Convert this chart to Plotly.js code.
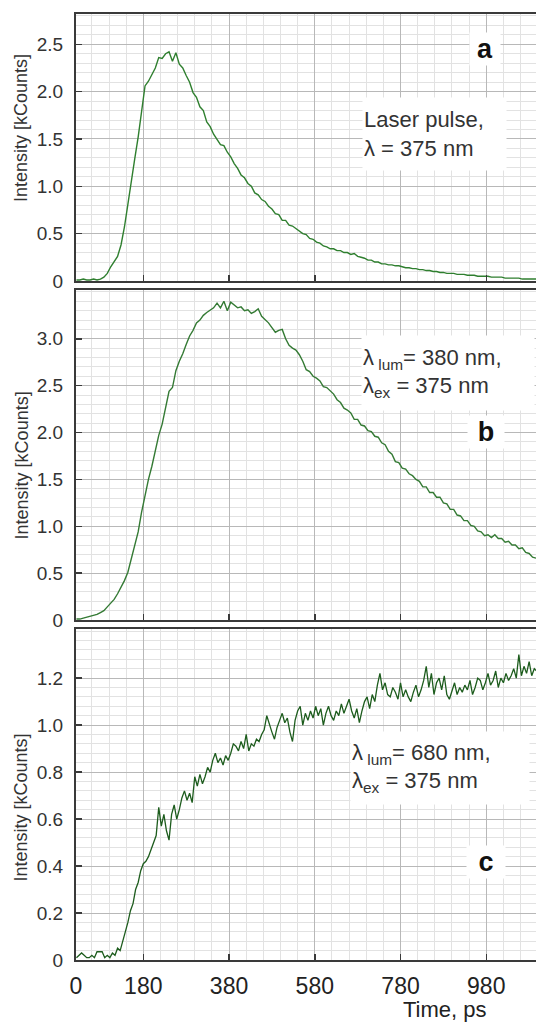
<!DOCTYPE html>
<html><head><meta charset="utf-8">
<script src="https://cdn.plot.ly/plotly-3.0.1.min.js"></script>
<style>html,body{margin:0;padding:0;background:#fff}#chart{width:536px;height:1023px}</style>
</head><body><div id="chart"></div>
<script>
// ---- data (time in ps, intensity in kCounts) ----
const startAB = 24, stepAB = 8;   // sampling grid of panels a and b
const startC = 24, stepC = 6;     // sampling grid of panel c

const intensityA = [
 0.01,0.01,0.02,0.01,0.01,0.02,0.01,0.02,0.04,0.08,
 0.15,0.20,0.26,0.38,0.57,0.81,1.07,1.29,1.52,1.78,
 2.06,2.11,2.18,2.25,2.36,2.35,2.40,2.42,2.32,2.41,
 2.29,2.25,2.17,2.10,1.99,1.94,1.84,1.80,1.68,1.63,
 1.55,1.50,1.44,1.43,1.36,1.31,1.24,1.19,1.12,1.09,
 1.03,1.00,0.93,0.91,0.86,0.84,0.79,0.76,0.71,0.70,
 0.64,0.64,0.59,0.58,0.55,0.53,0.50,0.49,0.45,0.44,
 0.41,0.40,0.37,0.36,0.34,0.34,0.32,0.32,0.30,0.30,
 0.28,0.29,0.26,0.25,0.24,0.22,0.22,0.20,0.20,0.18,
 0.18,0.17,0.17,0.16,0.16,0.15,0.14,0.14,0.13,0.13,
 0.12,0.12,0.11,0.11,0.10,0.10,0.09,0.09,0.08,0.08,
 0.08,0.07,0.07,0.07,0.06,0.06,0.06,0.05,0.05,0.05,
 0.05,0.04,0.04,0.04,0.04,0.03,0.03,0.03,0.03,0.03,
 0.02,0.02,0.02,0.02,0.02];

const intensityB = [
 0.01,0.01,0.02,0.03,0.04,0.05,0.06,0.08,0.10,0.14,
 0.18,0.22,0.28,0.35,0.42,0.51,0.65,0.80,0.94,1.15,
 1.34,1.50,1.64,1.81,1.97,2.09,2.27,2.44,2.48,2.66,
 2.76,2.84,2.94,3.03,3.09,3.17,3.20,3.25,3.28,3.31,
 3.33,3.38,3.33,3.40,3.30,3.39,3.36,3.33,3.34,3.30,
 3.31,3.27,3.29,3.32,3.24,3.21,3.17,3.12,3.07,3.09,
 3.10,3.00,2.93,2.90,2.88,2.83,2.76,2.67,2.65,2.60,
 2.58,2.55,2.49,2.48,2.44,2.41,2.35,2.32,2.26,2.24,
 2.21,2.14,2.14,2.08,2.07,2.02,2.01,1.96,1.95,1.89,
 1.87,1.80,1.77,1.69,1.68,1.62,1.61,1.56,1.54,1.50,
 1.48,1.42,1.42,1.36,1.36,1.31,1.31,1.25,1.24,1.18,
 1.18,1.12,1.11,1.06,1.06,1.01,1.00,0.95,0.94,0.90,
 0.91,0.88,0.91,0.87,0.87,0.83,0.84,0.80,0.80,0.76,
 0.77,0.72,0.71,0.67,0.66];

const intensityC = [
 0.01,0.02,0.03,0.02,0.01,0.01,0.02,0.01,0.035,0.035,
 0.035,0.01,0.02,0.01,0.03,0.02,0.05,0.04,0.085,0.12,
 0.16,0.21,0.24,0.30,0.33,0.38,0.41,0.42,0.44,0.47,
 0.50,0.53,0.65,0.57,0.62,0.55,0.51,0.62,0.66,0.60,
 0.64,0.69,0.72,0.68,0.71,0.67,0.78,0.74,0.79,0.75,
 0.78,0.82,0.80,0.85,0.88,0.84,0.86,0.83,0.87,0.85,
 0.88,0.92,0.91,0.89,0.93,0.90,0.96,0.89,0.92,0.91,
 0.94,0.93,0.96,0.98,1.04,1.00,0.97,0.94,0.99,1.02,
 1.05,1.01,1.03,0.97,0.93,1.02,1.06,1.08,1.00,1.05,
 1.02,1.06,1.03,1.08,1.04,1.07,1.00,1.05,1.08,1.04,
 1.02,1.06,1.04,1.09,1.05,1.08,1.11,1.06,1.03,1.07,
 1.01,1.06,1.10,1.12,1.07,1.13,1.10,1.17,1.22,1.15,
 1.18,1.13,1.12,1.16,1.14,1.11,1.18,1.12,1.15,1.12,
 1.10,1.14,1.17,1.12,1.15,1.19,1.25,1.16,1.22,1.13,
 1.18,1.20,1.15,1.21,1.13,1.11,1.15,1.18,1.13,1.16,
 1.14,1.17,1.15,1.19,1.13,1.16,1.20,1.19,1.15,1.18,
 1.22,1.17,1.19,1.23,1.16,1.20,1.18,1.22,1.19,1.21,
 1.24,1.20,1.30,1.21,1.25,1.22,1.27,1.21,1.24,1.23];

const xTickVals = [23, 180, 380, 580, 780, 980];
const xTickText = ['0', '180', '380', '580', '780', '980'];
const yTicksA = [0, 0.5, 1.0, 1.5, 2.0, 2.5];
const yLabelsA = ['0', '0.5', '1.0', '1.5', '2.0', '2.5'];
const yTicksB = [0, 0.5, 1.0, 1.5, 2.0, 2.5, 3.0];
const yLabelsB = ['0', '0.5', '1.0', '1.5', '2.0', '2.5', '3.0'];
const yTicksC = [0, 0.2, 0.4, 0.6, 0.8, 1.0, 1.2];
const yLabelsC = ['0', '0.2', '0.4', '0.6', '0.8', '1.0', '1.2'];

// ---- style ----
const FONT = 'Liberation Sans, Arial, sans-serif';
const gridMajor = '#b8b8b8', gridMinor = '#e2e2e2', axisLine = '#3a3a3a';
const xRange = [23, 1096];

function xAx(anchor, labels) {
  const ax = {
    anchor: anchor, domain: [0, 1], range: xRange,
    tickmode: 'array', tickvals: xTickVals, ticktext: xTickText, showticklabels: labels,
    ticks: 'inside', ticklen: 6, tickwidth: 1.5, tickcolor: axisLine,
    showline: true, mirror: true, linecolor: axisLine, linewidth: 2,
    showgrid: true, gridcolor: gridMajor, gridwidth: 1, zeroline: false,
    minor: {tickmode: 'linear', tick0: 20, dtick: 40, showgrid: true, gridcolor: gridMinor, gridwidth: 1, ticks: ''},
    tickfont: {family: FONT, size: 23, color: '#222'}, ticklabelstandoff: 4
  };
  if (anchor !== 'y') ax.matches = 'x';
  return ax;
}
function yAx(domain, range, tv, tt, minorStep) {
  return {
    domain: domain, range: range, tickmode: 'array', tickvals: tv, ticktext: tt,
    ticks: 'inside', ticklen: 6, tickwidth: 1.5, tickcolor: axisLine,
    showline: true, mirror: false, linecolor: axisLine, linewidth: 2,
    showgrid: true, gridcolor: gridMajor, gridwidth: 1, zeroline: false,
    minor: {tickmode: 'linear', tick0: 0, dtick: minorStep, showgrid: true, gridcolor: gridMinor, gridwidth: 1, ticks: ''},
    tickfont: {family: FONT, size: 19, color: '#333'}, ticklabelstandoff: 7
  };
}

const traces = [
  {type: 'scatter', mode: 'lines', x0: startAB, dx: stepAB, y: intensityA, xaxis: 'x3', yaxis: 'y3',
   line: {color: '#2f7f2f', width: 1.4}, hoverinfo: 'skip'},
  {type: 'scatter', mode: 'lines', x0: startAB, dx: stepAB, y: intensityB, xaxis: 'x2', yaxis: 'y2',
   line: {color: '#347a34', width: 1.4}, hoverinfo: 'skip'},
  {type: 'scatter', mode: 'lines', x0: startC, dx: stepC, y: intensityC, xaxis: 'x', yaxis: 'y',
   line: {color: '#1d5c1d', width: 1.3}, hoverinfo: 'skip'}
];

const txt = {family: FONT, size: 22, color: '#333'};
const bold = {family: FONT, size: 27, color: '#111', weight: 'bold'};
const ytitle = {family: FONT, size: 18, color: '#333'};

const annotations = [
  {xref: 'paper', yref: 'y3 domain', x: -0.1185, y: 0.575, text: 'Intensity [kCounts]', textangle: -90, showarrow: false, font: ytitle, xanchor: 'center', yanchor: 'middle'},
  {xref: 'paper', yref: 'y2 domain', x: -0.1185, y: 0.47, text: 'Intensity [kCounts]', textangle: -90, showarrow: false, font: ytitle, xanchor: 'center', yanchor: 'middle'},
  {xref: 'paper', yref: 'y domain', x: -0.1185, y: 0.462, text: 'Intensity [kCounts]', textangle: -90, showarrow: false, font: ytitle, xanchor: 'center', yanchor: 'middle'},
  {xref: 'paper', yref: 'paper', x: 0.802, y: -0.0518, text: 'Time, ps', showarrow: false, font: {family: FONT, size: 22, color: '#222'}, xanchor: 'center', yanchor: 'middle'},
  {xref: 'paper', yref: 'paper', x: 0.6217, y: 0.8732, text: 'Laser pulse,<br>λ = 375 nm', showarrow: false, font: txt,
   xanchor: 'left', yanchor: 'middle', align: 'left', bgcolor: '#ffffff', width: 141, height: 70},
  {xref: 'paper', yref: 'paper', x: 0.6196, y: 0.6205, text: 'λ<sub> lum</sub>= 380 nm,<br>λ<sub>ex</sub> = 375 nm', showarrow: false, font: txt,
   xanchor: 'left', yanchor: 'middle', align: 'left', bgcolor: '#ffffff', width: 170, height: 72},
  {xref: 'paper', yref: 'paper', x: 0.5957, y: 0.203, text: 'λ<sub> lum</sub>= 680 nm,<br>λ<sub>ex</sub> = 375 nm', showarrow: false, font: txt,
   xanchor: 'left', yanchor: 'middle', align: 'left', bgcolor: '#ffffff', width: 176, height: 70},
  {xref: 'paper', yref: 'paper', x: 0.889, y: 0.963, text: 'a', showarrow: false, font: bold, bgcolor: '#ffffff', width: 28, xanchor: 'center', yanchor: 'middle'},
  {xref: 'paper', yref: 'paper', x: 0.891, y: 0.558, text: 'b', showarrow: false, font: bold, bgcolor: '#ffffff', width: 34, xanchor: 'center', yanchor: 'middle'},
  {xref: 'paper', yref: 'paper', x: 0.891, y: 0.1036, text: 'c', showarrow: false, font: bold, bgcolor: '#ffffff', width: 36, xanchor: 'center', yanchor: 'middle'}
];

const layout = {
  width: 536, height: 1023,
  margin: {l: 76, r: 0, t: 14, b: 63},
  paper_bgcolor: '#ffffff', plot_bgcolor: '#ffffff',
  showlegend: false,
  font: {family: FONT},
  xaxis: xAx('y', true),
  xaxis2: xAx('y2', false),
  xaxis3: xAx('y3', false),
  yaxis: yAx([0, 0.3499], [0, 1.409], yTicksC, yLabelsC, 0.04),
  yaxis2: yAx([0.3594, 0.7082], [0, 3.52], yTicksB, yLabelsB, 0.1),
  yaxis3: yAx([0.7178, 1], [0, 2.82], yTicksA, yLabelsA, 0.1),
  annotations: annotations
};

Plotly.newPlot('chart', traces, layout, {staticPlot: true, displayModeBar: false});
</script>
</body></html>
